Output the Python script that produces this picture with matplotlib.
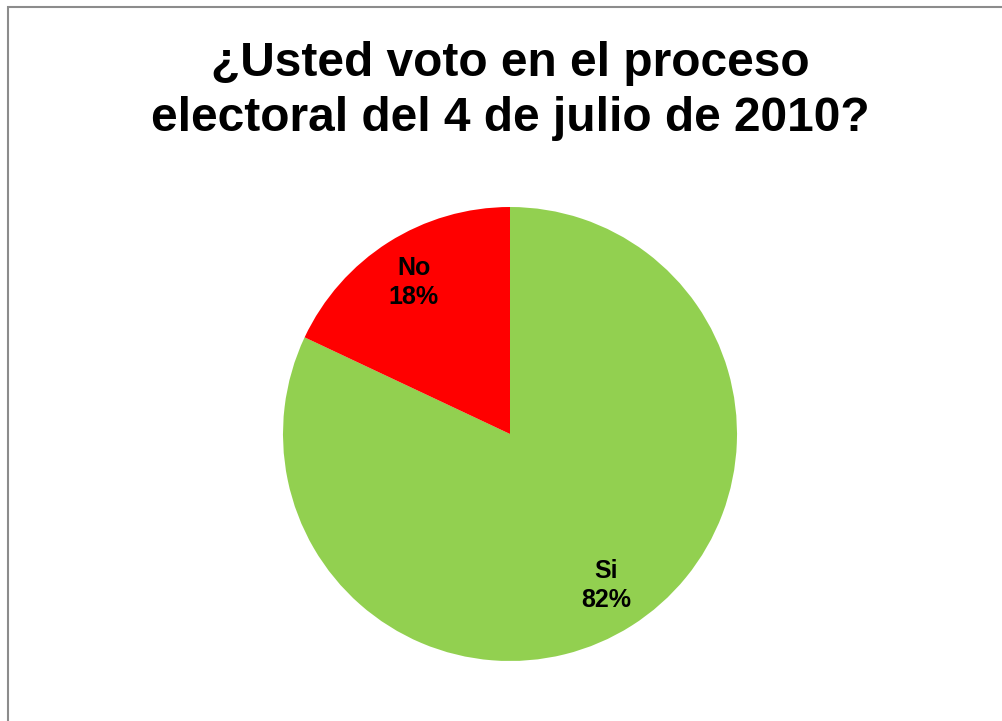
import matplotlib
matplotlib.use('Agg')
import matplotlib.pyplot as plt
from matplotlib.patches import Rectangle

# Datos de la encuesta
categorias = ['Si', 'No']
valores = [82, 18]
colores = ['#92D050', '#FF0000']
titulo = '¿Usted voto en el proceso\nelectoral del 4 de julio de 2010?'

plt.rcParams['font.family'] = ['Liberation Sans', 'DejaVu Sans']

fig = plt.figure(figsize=(10.03, 7.21), dpi=100)

# Marco del gráfico (sólo se ven los bordes izquierdo y superior)
marco = Rectangle((8 / 1003, -0.1), 1.2, 1 - 7 / 721 + 0.1, transform=fig.transFigure,
                  fill=False, edgecolor='#8c8c8c', linewidth=1.5)
fig.patches.append(marco)

ax = fig.add_axes([283 / 1003, 60 / 721, 454 / 1003, 454 / 721])


def etiqueta(pct):
    i = min(range(len(valores)), key=lambda k: abs(valores[k] - pct))
    return f'{categorias[i]}\n{pct:.0f}%'


wedges, textos, pcts = ax.pie(valores, colors=colores, startangle=90, counterclock=False,
                              autopct=etiqueta, pctdistance=0.79,
                              wedgeprops={'linewidth': 0},
                              textprops={'fontsize': 18, 'fontweight': 'bold', 'color': 'black'})
for t in pcts:
    t.set_multialignment('center')
    t.set_linespacing(1.3)
ax.set_xlim(-1, 1)
ax.set_ylim(-1, 1)
ax.set_aspect('equal')

fig.text(510 / 1003, 1 - 91 / 721, titulo, ha='center', va='center', fontsize=34.5,
         fontweight='bold', linespacing=1.3)

plt.savefig('out.png', dpi=100)
